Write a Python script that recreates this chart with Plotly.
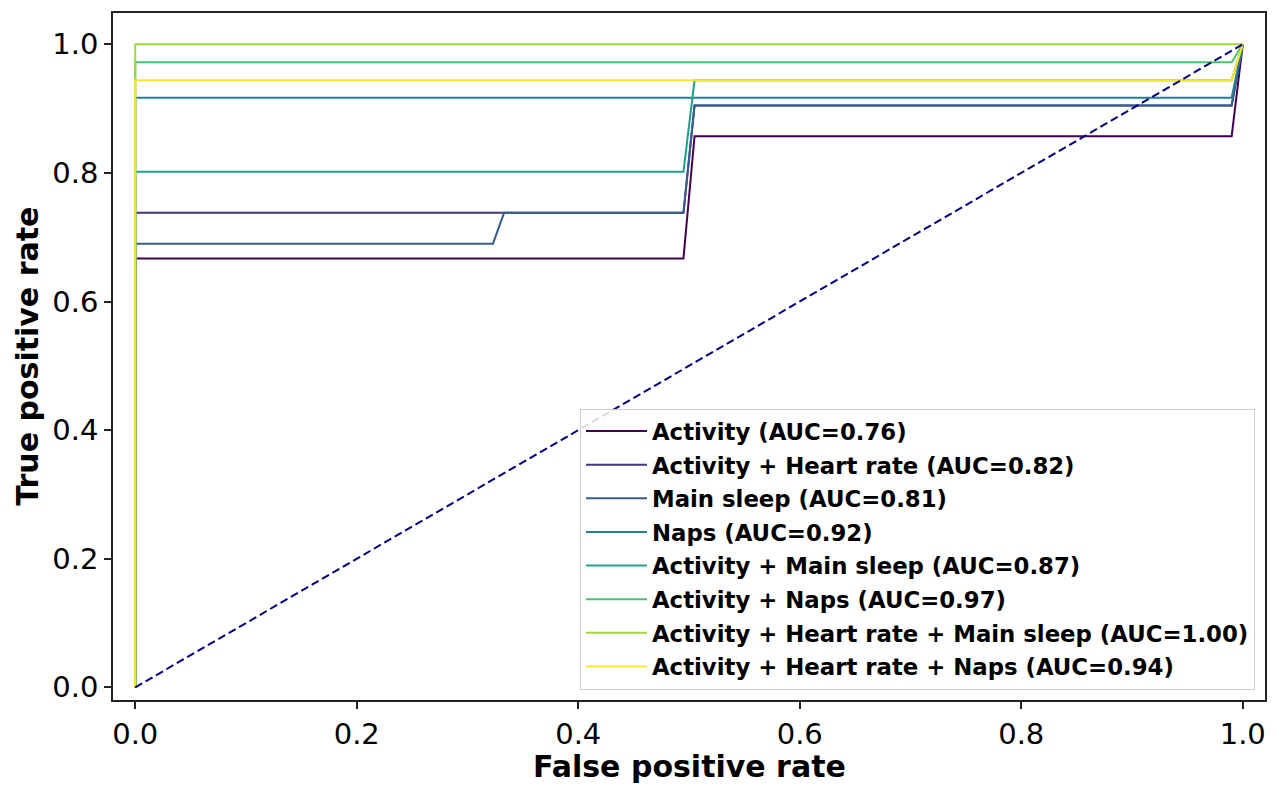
import plotly.graph_objects as go

# ---- data ----
labels = [
    "Activity (AUC=0.76)",
    "Activity + Heart rate (AUC=0.82)",
    "Main sleep (AUC=0.81)",
    "Naps (AUC=0.92)",
    "Activity + Main sleep (AUC=0.87)",
    "Activity + Naps (AUC=0.97)",
    "Activity + Heart rate + Main sleep (AUC=1.00)",
    "Activity + Heart rate + Naps (AUC=0.94)",
]

act_fpr = [0.0, 0.0, 0.495, 0.505, 0.990, 1.0]
act_tpr = [0.0, 0.667, 0.667, 0.857, 0.857, 1.0]

act_hr_fpr = [0.0, 0.0, 0.495, 0.505, 0.990, 1.0]
act_hr_tpr = [0.0, 0.738, 0.738, 0.905, 0.905, 1.0]

main_fpr = [0.0, 0.0, 0.323, 0.333, 0.495, 0.505, 0.990, 1.0]
main_tpr = [0.0, 0.690, 0.690, 0.738, 0.738, 0.905, 0.905, 1.0]

naps_fpr = [0.0, 0.0, 0.990, 1.0]
naps_tpr = [0.0, 0.917, 0.917, 1.0]

act_main_fpr = [0.0, 0.0, 0.495, 0.505, 0.990, 1.0]
act_main_tpr = [0.0, 0.802, 0.802, 0.944, 0.944, 1.0]

act_naps_fpr = [0.0, 0.0, 0.990, 1.0]
act_naps_tpr = [0.0, 0.972, 0.972, 1.0]

act_hr_main_fpr = [0.0, 0.0, 1.0]
act_hr_main_tpr = [0.0, 1.0, 1.0]

act_hr_naps_fpr = [0.0, 0.0, 0.990, 1.0]
act_hr_naps_tpr = [0.0, 0.944, 0.944, 1.0]

chance_fpr = [0.0, 1.0]
chance_tpr = [0.0, 1.0]

x_ticks = [0.0, 0.2, 0.4, 0.6, 0.8, 1.0]
y_ticks = [0.0, 0.2, 0.4, 0.6, 0.8, 1.0]

x_title = "False positive rate"
y_title = "True positive rate"

colors = ["#440154", "#46327e", "#365c8d", "#277f8e",
          "#1fa187", "#4ac16d", "#a0da39", "#fde725"]

series = [
    (act_fpr, act_tpr),
    (act_hr_fpr, act_hr_tpr),
    (main_fpr, main_tpr),
    (naps_fpr, naps_tpr),
    (act_main_fpr, act_main_tpr),
    (act_naps_fpr, act_naps_tpr),
    (act_hr_main_fpr, act_hr_main_tpr),
    (act_hr_naps_fpr, act_hr_naps_tpr),
]

FONT = "DejaVu Sans"
TITLE_FONT = dict(family=FONT, size=30, color="black", weight="bold")

fig = go.Figure()
for i, ((xs, ys), name, c) in enumerate(zip(series, labels, colors)):
    fig.add_trace(go.Scatter(x=xs, y=ys, mode="lines", name=name,
                             legendgroup=f"g{i}",
                             line=dict(color=c, width=2)))

fig.add_trace(go.Scatter(x=chance_fpr, y=chance_tpr, mode="lines",
                         showlegend=False,
                         line=dict(color="navy", width=2, dash="8px,4px")))

axis_common = dict(
    showgrid=False, zeroline=False, automargin=False,
    showline=True, linecolor="#222222", linewidth=1.5, mirror=True,
    ticks="outside", ticklen=7, tickwidth=1.5, tickcolor="#222222",
    tickfont=dict(family=FONT, size=29, color="black"),
    tickformat=".1f",
)

fig.update_xaxes(range=[-0.0201, 1.0201], tickvals=x_ticks, **axis_common)
fig.update_yaxes(range=[-0.0197, 1.0487], tickvals=y_ticks, **axis_common)

fig.add_annotation(text=x_title, xref="paper", yref="paper",
                   x=0.5, y=-0.0975, xanchor="center", yanchor="middle",
                   showarrow=False, font=TITLE_FONT)
fig.add_annotation(text=y_title, xref="paper", yref="paper",
                   x=-0.0745, y=0.5, xanchor="center", yanchor="middle",
                   textangle=-90, showarrow=False, font=TITLE_FONT)

fig.update_layout(
    width=1277, height=785, autosize=False,
    margin=dict(l=113, r=12, t=13, b=85),
    plot_bgcolor="white", paper_bgcolor="white",
    font=dict(family=FONT, color="black"),
    legend=dict(
        x=0.9913, y=0.015, xanchor="right", yanchor="bottom",
        itemwidth=61, tracegroupgap=1,
        bgcolor="rgba(255,255,255,0.85)", bordercolor="#cccccc", borderwidth=1,
        font=dict(family=FONT, size=22.8, color="black", weight="bold"),
    ),
)

# remove the default page margin so the figure fills the window exactly
fig.write_html(
    "out.html",
    config={"displayModeBar": False},
    post_script="document.body.style.margin='0';document.body.style.overflow='hidden';",
)
